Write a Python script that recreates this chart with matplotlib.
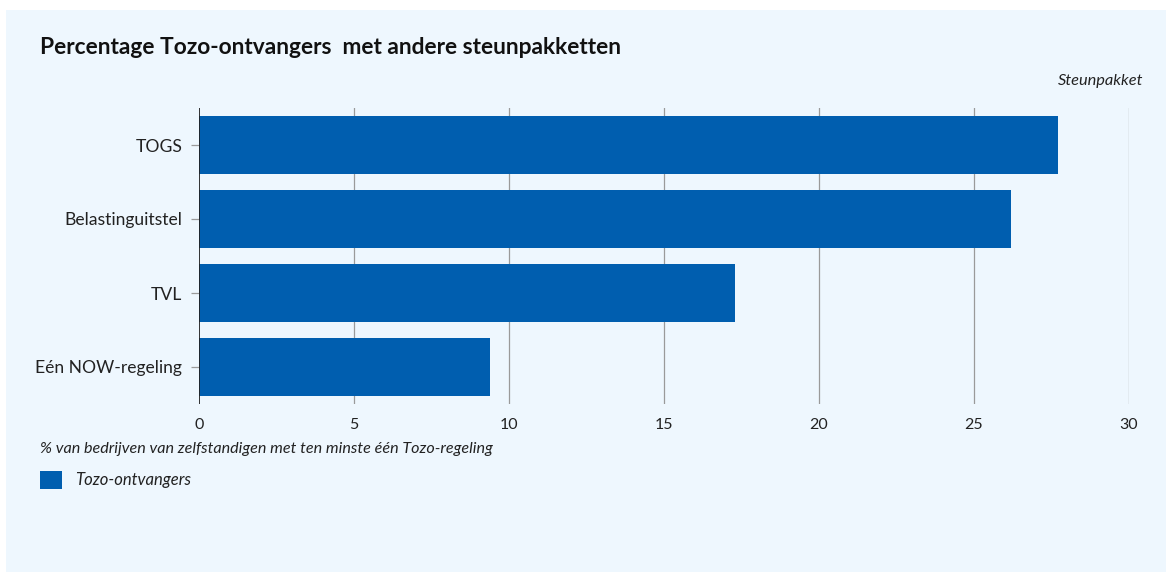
import matplotlib.pyplot as plt
from matplotlib.patches import Rectangle

# data
categories = ['TOGS', 'Belastinguitstel', 'TVL', 'Eén NOW-regeling']
values = [27.7, 26.2, 17.3, 9.4]
xticks = [0, 5, 10, 15, 20, 25, 30]

bar_color = '#005EAF'
bg_color = '#EEF7FE'

plt.rcParams['font.family'] = ['Lato', 'DejaVu Sans']

W, H = 1166, 572
fig = plt.figure(figsize=(W / 100, H / 100), dpi=100)
fig.patch.set_facecolor('white')

# lichtblauw paneel
fig.add_artist(Rectangle((6 / W, 0), 1 - 6 / W, 1 - 10 / H, transform=fig.transFigure,
                         facecolor=bg_color, edgecolor='none', zorder=0))

ax = fig.add_axes([199 / W, 1 - 404 / H, (1129 - 199) / W, (404 - 108) / H])
ax.set_facecolor('none')

y = list(range(len(categories)))
ax.barh(y, values, height=0.78, color=bar_color, zorder=3)

ax.set_xlim(0, 30)
ax.set_ylim(len(categories) - 0.5, -0.5)
ax.set_xticks(xticks)
ax.set_xticklabels([str(t) for t in xticks], fontsize=11.5, color='#222222')
ax.set_yticks(y)
ax.set_yticklabels(categories, fontsize=12.6, color='#222222')
ax.tick_params(axis='x', length=0, pad=10)
ax.tick_params(axis='y', length=5.5, width=0.9, color='#9a9a9a', pad=6.5)

for t in xticks[1:]:
    ax.axvline(t, color='#9a9a9a', linewidth=0.9, zorder=1)
ax.axvline(0, color='#222222', linewidth=1.3, zorder=4)

for s in ax.spines.values():
    s.set_visible(False)

fig.text(40 / W, 1 - 47 / H, 'Percentage Tozo-ontvangers  met andere steunpakketten',
         fontsize=16.4, fontweight='bold', va='center', ha='left', color='#111111')
fig.text(1143 / W, 1 - 81 / H, 'Steunpakket', fontsize=11.8, style='italic',
         va='center', ha='right', color='#222222')
fig.text(40 / W, 1 - 449 / H, '% van bedrijven van zelfstandigen met ten minste één Tozo-regeling',
         fontsize=11.6, style='italic', va='center', ha='left', color='#222222')

# legenda
fig.add_artist(Rectangle((40 / W, 1 - 489 / H), 22 / W, 18 / H, transform=fig.transFigure,
                         facecolor=bar_color, edgecolor='none'))
fig.text(75 / W, 1 - 480 / H, 'Tozo-ontvangers', fontsize=12, style='italic',
         va='center', ha='left', color='#222222')

fig.savefig('out.png', dpi=100)
